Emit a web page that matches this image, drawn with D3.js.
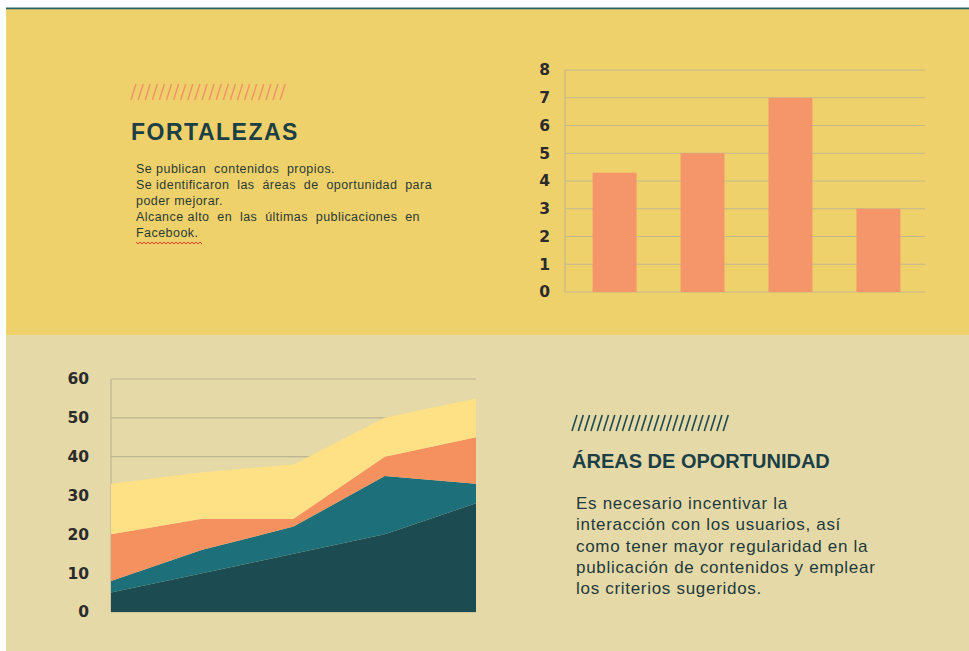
<!DOCTYPE html>
<html><head><meta charset="utf-8">
<script src="https://cdn.jsdelivr.net/npm/d3@7"></script>
<style>body{margin:0;background:#fff}svg{display:block}</style>
</head><body>
<script>
// ---- data ----
const barCategories = ["A","B","C","D"];
const barValues = [4.3, 5, 7, 3];
const barTicks = [0,1,2,3,4,5,6,7,8];

const areaCategories = [1,2,3,4,5];
const seriesNames = ["s1","s2","s3","s4"];
const s1 = [5, 10, 15, 20, 28];
const s2 = [3, 6, 7, 15, 5];
const s3 = [12, 8, 2, 5, 12];
const s4 = [13, 12, 14, 10, 10];
const areaTicks = [0,10,20,30,40,50,60];

const fortTitle = "FORTALEZAS";
const fortLines = ["Se publican  contenidos  propios.","Se identificaron  las  áreas  de  oportunidad  para","poder mejorar.","Alcance alto  en  las  últimas  publicaciones  en","Facebook."];
const opTitle = "ÁREAS DE OPORTUNIDAD";
const opLines = ["Es necesario incentivar la","interacción con los usuarios, así","como tener mayor regularidad en la","publicación de contenidos y emplear","los criterios sugeridos."];

const W=969,H=651;
const svg=d3.select("body").append("svg").attr("width",W).attr("height",H);

// backgrounds
svg.append("rect").attr("x",0).attr("y",0).attr("width",W).attr("height",H).attr("fill","#fff");
svg.append("rect").attr("x",6).attr("y",9).attr("width",W-6).attr("height",326).attr("fill","#efd16b");
svg.append("rect").attr("x",6).attr("y",335).attr("width",W-6).attr("height",H-335).attr("fill","#e5d9a8");
svg.append("rect").attr("x",6).attr("y",7.5).attr("width",W-6).attr("height",1.8).attr("fill","#2a6468");

// stripes
function stripes(x0,x1,y0,y1,step,color,w){
  const g=svg.append("g");
  for(let x=x0;x<=x1-5;x+=step){
    g.append("line").attr("x1",x).attr("y1",y1).attr("x2",x+5).attr("y2",y0)
     .attr("stroke",color).attr("stroke-width",w);
  }
}
stripes(131,290,84,100,7.1,"#f3906a",1.4);
stripes(572,731,415,431,6.3,"#1e4a4f",1.6);

// FORTALEZAS text
svg.append("text").attr("x",131).attr("y",139.5).text(fortTitle)
  .attr("font-family","Liberation Sans, Arial, sans-serif").attr("font-weight","bold")
  .attr("font-size",23).attr("letter-spacing",1.5).attr("fill","#1b3f45");
const ft=svg.append("text").attr("font-family","Liberation Sans, Arial, sans-serif")
  .attr("font-size",12.5).attr("letter-spacing",0.45).attr("fill","#2a3a33");
fortLines.forEach((l,i)=>ft.append("tspan").attr("x",136).attr("y",172.5+i*16.2).style("white-space","pre").text(l));
// spelling squiggle under Facebook
{
  let d="M136,242";
  for(let x=136,k=0;x<202;x+=2,k++) d+=` L${x+2},${k%2?242:244}`;
  svg.append("path").attr("d",d).attr("fill","none").attr("stroke","#e0302a").attr("stroke-width",0.9);
}

// ÁREAS text
svg.append("text").attr("x",572).attr("y",468).text(opTitle)
  .attr("font-family","Liberation Sans, Arial, sans-serif").attr("font-weight","bold")
  .attr("font-size",20).attr("letter-spacing",0).attr("fill","#1b3f45");
const ot=svg.append("text").attr("font-family","Liberation Sans, Arial, sans-serif")
  .attr("font-size",17).attr("letter-spacing",0.7).attr("fill","#1e3a3c");
opLines.forEach((l,i)=>ot.append("tspan").attr("x",576).attr("y",509+i*21.3).text(l));

// ---- bar chart ----
const bx=d3.scaleBand().domain(barCategories).range([568,925]).paddingInner(0.5).paddingOuter(0.28);
const by=d3.scaleLinear().domain([0,8]).range([292,70]);
const bg=svg.append("g");
bg.selectAll("line.g").data(barTicks).join("line")
  .attr("x1",565).attr("x2",925).attr("y1",d=>by(d)).attr("y2",d=>by(d))
  .attr("stroke","#c2b78e").attr("stroke-width",1.2);
bg.append("line").attr("x1",565).attr("x2",565).attr("y1",by(8)).attr("y2",by(0)).attr("stroke","#c2b78e").attr("stroke-width",1.2);
bg.selectAll("rect").data(barValues).join("rect")
  .attr("x",(d,i)=>bx(barCategories[i])).attr("width",bx.bandwidth())
  .attr("y",d=>by(d)).attr("height",d=>by(0)-by(d)).attr("fill","#f5966a");
const bAxis=svg.append("g").attr("transform","translate(565,0)")
  .call(d3.axisLeft(by).tickValues(barTicks).tickSize(0).tickPadding(15));
bAxis.select(".domain").remove();
bAxis.selectAll("text").attr("font-family","DejaVu Sans, sans-serif").attr("font-weight","bold")
  .attr("font-size",15.5).attr("fill","#2b2b2b");

// ---- area chart ----
const ax=d3.scaleLinear().domain([1,5]).range([111,476]);
const ay=d3.scaleLinear().domain([0,60]).range([612,379]);
const ag=svg.append("g");
ag.selectAll("line.g").data(areaTicks).join("line")
  .attr("x1",111).attr("x2",476).attr("y1",d=>ay(d)).attr("y2",d=>ay(d))
  .attr("stroke","#bcb595").attr("stroke-width",1.2);
ag.append("line").attr("x1",111).attr("x2",111).attr("y1",ay(60)).attr("y2",ay(0)).attr("stroke","#bcb595").attr("stroke-width",1.2);
const table=areaCategories.map((c,i)=>({c,s1:s1[i],s2:s2[i],s3:s3[i],s4:s4[i]}));
const stacked=d3.stack().keys(seriesNames)(table);
const colors=["#1c4b51","#1d6f79","#f4915f","#fde184"];
const area=d3.area().x(d=>ax(d.data.c)).y0(d=>ay(d[0])).y1(d=>ay(d[1]));
ag.selectAll("path.a").data(stacked).join("path").attr("d",area).attr("fill",(d,i)=>colors[i]);
const aAxis=svg.append("g").attr("transform","translate(111,0)")
  .call(d3.axisLeft(ay).tickValues(areaTicks).tickSize(0).tickPadding(22));
aAxis.select(".domain").remove();
aAxis.selectAll("text").attr("font-family","DejaVu Sans, sans-serif").attr("font-weight","bold")
  .attr("font-size",15.5).attr("fill","#2b2b2b");
</script>
</body></html>
